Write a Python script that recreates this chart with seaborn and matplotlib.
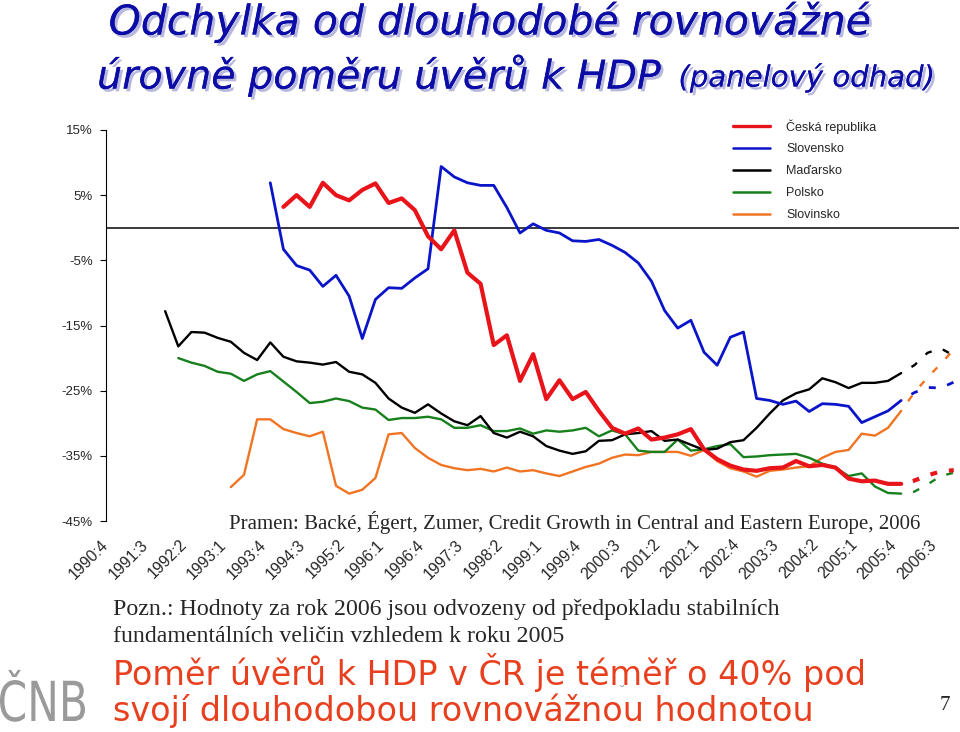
import numpy as np
import pandas as pd
import matplotlib
matplotlib.use('Agg')
import matplotlib.pyplot as plt
import matplotlib.patheffects as pe
from matplotlib.lines import Line2D
from matplotlib.textpath import TextPath
from matplotlib.patches import PathPatch
from matplotlib.font_manager import FontProperties
from matplotlib.transforms import Affine2D, ScaledTranslation
import seaborn as sns

# quarterly axis, 1990:4 = index 0, every third quarter labelled
quarter_labels = ['1990:4', '1991:3', '1992:2', '1993:1', '1993:4', '1994:3',
                  '1995:2', '1996:1', '1996:4', '1997:3', '1998:2', '1999:1',
                  '1999:4', '2000:3', '2001:2', '2002:1', '2002:4', '2003:3',
                  '2004:2', '2005:1', '2005:4', '2006:3']

# Ceska republika (from 1994:1)
cz_start = 13
cz = [3.2, 5.0, 3.2, 6.9, 5.0, 4.2, 5.8, 6.8, 3.8, 4.5,
      2.7, -1.3, -3.3, -0.4, -6.9, -8.6, -18.0, -16.5, -23.5, -19.4,
      -26.3, -23.4, -26.3, -25.2, -28.1, -30.7, -31.6, -30.8, -32.5, -32.2,
      -31.7, -30.9, -34.0, -35.5, -36.5, -37.1, -37.3, -36.9, -36.8, -35.8,
      -36.6, -36.4, -36.8, -38.5, -38.9, -38.8, -39.3, -39.3]
cz_2006 = [-39.3, -38.8, -38.0, -37.4, -37.2]

# Slovensko (from 1993:4)
sk_start = 12
sk = [6.9, -3.3, -5.8, -6.5, -9.0, -7.3, -10.5, -17.0, -11.0, -9.2,
      -9.3, -7.7, -6.3, 9.4, 7.8, 6.9, 6.5, 6.5, 3.1, -0.8,
      0.6, -0.4, -0.8, -2.0, -2.1, -1.8, -2.7, -3.8, -5.4, -8.2,
      -12.7, -15.4, -14.2, -19.1, -21.1, -16.8, -16.0, -26.2, -26.5, -27.1,
      -26.6, -28.2, -27.0, -27.1, -27.4, -29.9, -29.0, -28.1, -26.5]
sk_2006 = [-26.5, -25.3, -24.5, -24.6, -23.7]

# Madarsko (from 1991:4)
hu_start = 4
hu = [-12.8, -18.2, -16.0, -16.1, -16.9, -17.5, -19.2, -20.3, -17.6, -19.8,
      -20.5, -20.7, -21.0, -20.6, -22.1, -22.5, -23.8, -26.2, -27.6, -28.4,
      -27.1, -28.5, -29.7, -30.3, -28.9, -31.5, -32.2, -31.3, -32.0, -33.5,
      -34.2, -34.7, -34.3, -32.7, -32.6, -31.7, -31.5, -31.2, -32.7, -32.5,
      -33.3, -34.1, -33.9, -32.9, -32.6, -30.7, -28.5, -26.5, -25.4, -24.8,
      -23.1, -23.7, -24.6, -23.8, -23.8, -23.5, -22.3]
hu_2006 = [-22.3, -21.1, -19.2, -18.5, -19.6]

# Polsko (from 1992:1)
pl_start = 5
pl = [-20.0, -20.7, -21.2, -22.1, -22.4, -23.5, -22.5, -22.0, -23.6, -25.2,
      -26.9, -26.7, -26.2, -26.6, -27.6, -27.9, -29.5, -29.2, -29.2, -29.0,
      -29.4, -30.7, -30.7, -30.3, -31.2, -31.2, -30.8, -31.6, -31.1, -31.3,
      -31.1, -30.7, -32.0, -31.1, -31.7, -34.2, -34.4, -34.4, -32.5, -34.2,
      -34.0, -33.5, -33.2, -35.2, -35.1, -34.9, -34.8, -34.7, -35.3, -36.2,
      -36.8, -38.1, -37.7, -39.7, -40.7, -40.8]
pl_2006 = [-40.8, -40.5, -39.4, -38.1, -37.6]

# Slovinsko (from 1993:1)
si_start = 9
si = [-39.8, -37.9, -29.4, -29.4, -30.9, -31.5, -32.0, -31.3, -39.6, -40.8,
      -40.2, -38.4, -31.7, -31.5, -33.8, -35.3, -36.4, -36.9, -37.2, -37.0,
      -37.4, -36.8, -37.4, -37.2, -37.7, -38.1, -37.4, -36.7, -36.2, -35.3,
      -34.8, -34.9, -34.4, -34.4, -34.4, -35.0, -34.1, -35.8, -36.9, -37.4,
      -38.2, -37.3, -37.1, -36.8, -36.6, -35.3, -34.4, -34.1, -31.6, -31.9,
      -30.7, -28.1]
si_2006 = [-28.1, -25.3, -23.0, -20.9, -18.7]

series = [
    ('Česká republika', cz_start, cz, cz_2006, '#e8141a', 3.0),
    ('Slovensko', sk_start, sk, sk_2006, '#0a14c8', 2.0),
    ('Maďarsko', hu_start, hu, hu_2006, '#000000', 1.7),
    ('Polsko', pl_start, pl, pl_2006, '#17801c', 1.7),
    ('Slovinsko', si_start, si, si_2006, '#f07422', 1.7),
]
forecast_start = 60

sns.set_style('white')
plt.rcParams['font.family'] = ['Liberation Sans', 'DejaVu Sans']

W, H = 960, 732
fig = plt.figure(figsize=(W / 100, H / 100), dpi=100)


def fx(x):
    return x / W


def fy(y):
    return 1 - y / H


ax = fig.add_axes([fx(106), fy(521), (959 - 106) / W, (521 - 130) / H])

# draw in reverse so the Czech line ends on top
for name, start, vals, fc, color, lw in series[::-1]:
    d = pd.DataFrame({'q': np.arange(start, start + len(vals)), 'v': vals})
    sns.lineplot(data=d, x='q', y='v', color=color, linewidth=lw, ax=ax,
                 legend=False, zorder=3)
    f = pd.DataFrame({'q': np.arange(forecast_start, forecast_start + len(fc)), 'v': fc})
    on, off = 5.0 / lw, 8.6 / lw
    sns.lineplot(data=f, x='q', y='v', color=color, linewidth=lw, ax=ax,
                 legend=False, linestyle=(on, (on, off)), zorder=3)

ax.axhline(0, color='#3a3a3a', lw=1.4, zorder=2)
ax.set_xlim(-0.5, 64.4)
ax.set_ylim(-45, 15)
ax.set_xlabel('')
ax.set_ylabel('')

yt = [15, 5, -5, -15, -25, -35, -45]
ax.set_yticks(yt)
ax.set_yticklabels([f'{v}%' for v in yt], fontsize=9.5)
ax.tick_params(axis='y', direction='out', length=4.5, width=0.8, pad=5,
               left=True, color='black')

ax.set_xticks(range(0, 64, 3))
ax.set_xticklabels(quarter_labels, fontsize=11.3, rotation=45, ha='right',
                   va='top', rotation_mode='anchor')
ax.tick_params(axis='x', length=0, pad=11.5)
shift = ScaledTranslation(-12 / 100, 0, fig.dpi_scale_trans)
for lab in ax.get_xticklabels():
    lab.set_transform(lab.get_transform() + shift)

for s in ['top', 'right', 'bottom']:
    ax.spines[s].set_visible(False)
ax.spines['left'].set_color('black')
ax.spines['left'].set_linewidth(0.8)

handles = [Line2D([], [], color=c, lw=(2.4 if lw > 2.5 else 1.8))
           for _, _, _, _, c, lw in series]
fig.legend(handles, [s[0] for s in series], loc='upper left',
           bbox_to_anchor=(fx(733), fy(119)), frameon=False, fontsize=9,
           handlelength=2.96, handletextpad=1.3, labelspacing=0.8,
           borderpad=0, borderaxespad=0)

# title
title_color = '#0c0ca6'
shadow = [pe.withSimplePatchShadow(offset=(2, -2), shadow_rgbFace='#9a9ad0', alpha=0.7),
          pe.Normal()]
fig.text(fx(490), fy(22), 'Odchylka od dlouhodobé rovnovážné', ha='center',
         va='center', fontsize=29.5, style='italic', color=title_color,
         family='DejaVu Sans', path_effects=shadow)
t2 = fig.text(0, fy(75), 'úrovně poměru úvěrů k HDP', ha='left',
              va='center', fontsize=28.5, style='italic', color=title_color,
              family='DejaVu Sans', path_effects=shadow)
t3 = fig.text(0, fy(78), '(panelový odhad)', ha='left',
              va='center', fontsize=21, style='italic', color=title_color,
              family='DejaVu Sans', path_effects=shadow)
r = fig.canvas.get_renderer()
w2 = t2.get_window_extent(r).width
w3 = t3.get_window_extent(r).width
x2 = 516 - (w2 + 17 + w3) / 2
t2.set_x(fx(x2))
t3.set_x(fx(x2 + w2 + 17))

fig.text(fx(575), fy(523),
         'Pramen: Backé, Égert, Zumer, Credit Growth in Central and Eastern Europe, 2006',
         ha='center', va='center', fontsize=15, family='Liberation Serif')
fig.text(fx(113), fy(609),
         'Pozn.: Hodnoty za rok 2006 jsou odvozeny od předpokladu stabilních',
         ha='left', va='center', fontsize=17.2, family='Liberation Serif')
fig.text(fx(113), fy(637),
         'fundamentálních veličin vzhledem k roku 2005',
         ha='left', va='center', fontsize=17.2, family='Liberation Serif')

red_text = '#e8401e'
fig.text(fx(113), fy(672), 'Poměr úvěrů k HDP v ČR je téměř o 40% pod',
         ha='left', va='center', fontsize=24, color=red_text, family='DejaVu Sans')
fig.text(fx(113), fy(711), 'svojí dlouhodobou rovnovážnou hodnotou',
         ha='left', va='center', fontsize=24, color=red_text, family='DejaVu Sans')
fig.text(fx(622), fy(692), '˘', ha='center', va='center', fontsize=9,
         color='#999999', family='DejaVu Sans')

# CNB logo: condensed grey letters
tp = TextPath((0, 0), 'ČNB', size=40, prop=FontProperties(family='DejaVu Sans'))
ext = tp.get_extents()
sx = 85 / ext.width
logo_tr = Affine2D().translate(-ext.x0, 0).scale(sx, 1.38).translate(0, H - 721)
fig.add_artist(PathPatch(tp, transform=logo_tr, facecolor='#9a9a9a',
                         edgecolor='none'))

fig.text(fx(945), fy(706), '7', ha='center', va='center', fontsize=15,
         family='Liberation Serif')

fig.savefig('out.png', dpi=100)
